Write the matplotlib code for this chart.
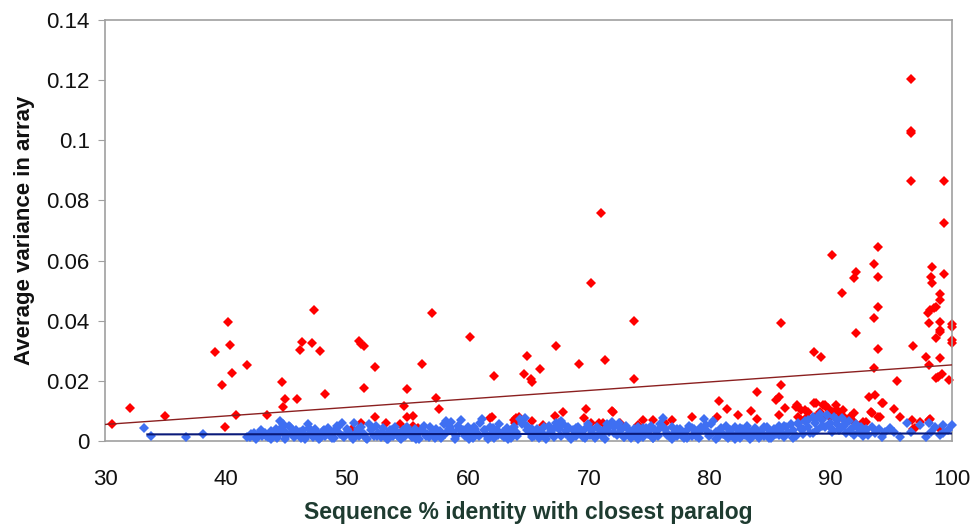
import matplotlib
matplotlib.use("Agg")
import matplotlib.pyplot as plt

# ---- data ----
red_x = [30.6, 32.1, 35.0, 39.1, 39.7, 39.9, 40.2, 40.3, 40.5, 40.8, 41.7, 43.4, 44.6, 44.7,
         44.9, 45.9, 46.1, 46.3, 47.1, 47.3, 47.8, 48.2, 50.4, 51.0, 51.2, 51.4, 51.4, 51.2,
         52.3, 52.3, 53.2, 54.4, 54.7, 55.0, 55.0, 55.5, 55.5, 55.9, 56.2, 57.0, 57.4, 57.6,
         60.2, 61.8, 62.0, 62.2, 63.8, 63.9, 64.0, 64.2, 64.6, 64.9, 65.2, 65.3, 65.3, 66.0,
         66.2, 67.2, 67.3, 67.5, 67.9, 69.2, 69.6, 69.8, 70.2, 70.2, 70.8, 71.0, 71.2, 71.3,
         71.9, 72.0, 72.6, 73.7, 73.7, 74.1, 74.5, 75.3, 76.3, 76.9, 78.5, 80.6, 80.8, 81.4,
         82.3, 83.4, 83.9, 83.9, 85.5, 85.7, 85.7, 85.9, 85.9, 86.2, 87.1, 87.2, 87.3, 87.5,
         87.5, 87.9, 88.0, 88.1, 88.6, 88.6, 88.7, 88.8, 89.1, 89.2, 89.3, 89.4, 89.5, 89.7,
         89.8, 89.9, 90.1, 90.2, 90.4, 90.5, 90.8, 90.8, 90.9, 91.0, 91.1, 91.6, 91.9, 91.9,
         91.9, 92.1, 92.1, 92.7, 92.9, 93.2, 93.3, 93.4, 93.6, 93.6, 93.6, 93.7, 93.9, 93.9,
         93.9, 93.9, 93.9, 94.1, 94.2, 94.3, 95.2, 95.5, 95.7, 96.6, 96.6, 96.6, 96.6, 96.7,
         96.8, 96.8, 97.0, 97.4, 97.9, 98.0, 98.1, 98.1, 98.1, 98.2, 98.2, 98.3, 98.4, 98.4,
         98.5, 98.7, 98.7, 98.7, 98.9, 99.0, 99.0, 99.0, 99.0, 99.0, 99.0, 99.0, 99.2, 99.4,
         99.4, 99.4, 99.8, 100.0, 100.0, 100.0, 100.0]
red_y = [0.0057, 0.0109, 0.0083, 0.0296, 0.0186, 0.0048, 0.0396, 0.0320, 0.0226, 0.0086, 0.0253, 0.0086, 0.0195, 0.0114,
         0.0139, 0.0139, 0.0303, 0.0330, 0.0327, 0.0434, 0.0299, 0.0156, 0.0041, 0.0333, 0.0322, 0.0316, 0.0177, 0.0061,
         0.0246, 0.0080, 0.0059, 0.0055, 0.0115, 0.0173, 0.0081, 0.0083, 0.0051, 0.0043, 0.0256, 0.0427, 0.0142, 0.0105,
         0.0347, 0.0075, 0.0081, 0.0217, 0.0070, 0.0059, 0.0075, 0.0081, 0.0222, 0.0283, 0.0205, 0.0195, 0.0068, 0.0238,
         0.0053, 0.0083, 0.0316, 0.0059, 0.0095, 0.0255, 0.0075, 0.0106, 0.0527, 0.0061, 0.0059, 0.0757, 0.0059, 0.0270,
         0.0101, 0.0097, 0.0061, 0.0400, 0.0205, 0.0053, 0.0070, 0.0070, 0.0059, 0.0070, 0.0081, 0.0081, 0.0134, 0.0108,
         0.0086, 0.0101, 0.0164, 0.0072, 0.0136, 0.0147, 0.0086, 0.0391, 0.0186, 0.0109, 0.0114, 0.0120, 0.0081, 0.0103,
         0.0070, 0.0103, 0.0081, 0.0097, 0.0125, 0.0297, 0.0081, 0.0125, 0.0097, 0.0278, 0.0075, 0.0120, 0.0120, 0.0109,
         0.0109, 0.0081, 0.0619, 0.0097, 0.0120, 0.0103, 0.0092, 0.0081, 0.0491, 0.0103, 0.0081, 0.0081, 0.0541, 0.0092,
         0.0064, 0.0563, 0.0360, 0.0064, 0.0064, 0.0147, 0.0097, 0.0094, 0.0588, 0.0408, 0.0242, 0.0153, 0.0646, 0.0546,
         0.0447, 0.0306, 0.0081, 0.0081, 0.0125, 0.0125, 0.0108, 0.0200, 0.0081, 0.1204, 0.1025, 0.1032, 0.0865, 0.0070,
         0.0317, 0.0039, 0.0042, 0.0064, 0.0278, 0.0427, 0.0391, 0.0253, 0.0070, 0.0436, 0.0072, 0.0546, 0.0580, 0.0527,
         0.0441, 0.0447, 0.0344, 0.0208, 0.0213, 0.0490, 0.0470, 0.0395, 0.0370, 0.0363, 0.0275, 0.0039, 0.0223, 0.0865,
         0.0726, 0.0555, 0.0203, 0.0389, 0.0335, 0.0326, 0.0380]

blue_x = [33.2, 33.8, 36.7, 38.1, 41.7,
          42.0, 42.3, 42.5, 42.8, 43.0, 43.2, 43.5, 43.7, 44.0, 44.2, 44.5, 44.6, 44.7, 44.9, 45.0,
          45.2, 45.4, 45.6, 45.8, 46.0, 46.2, 46.4, 46.6, 46.8, 47.0, 47.2, 47.4, 47.6, 47.8, 48.0,
          48.2, 48.4, 48.6, 48.8, 49.0, 49.2, 49.4, 49.6, 49.8, 50.0, 50.2, 50.4, 50.6, 50.8, 51.0,
          51.2, 51.4, 51.6, 51.8, 52.0, 52.2, 52.4, 52.6, 52.8, 53.0, 53.2, 53.4, 53.6, 53.8, 54.0,
          54.2, 54.4, 54.6, 54.8, 55.0, 55.2, 55.4, 55.6, 55.8, 56.0, 56.2, 56.4, 56.6, 56.8, 57.0,
          57.2, 57.4, 57.6, 57.8, 58.0, 58.2, 58.4, 58.6, 58.8, 59.0, 59.2, 59.4, 59.6, 59.8, 60.0,
          60.2, 60.4, 60.6, 60.8, 61.0, 61.2, 61.4, 61.6, 61.8, 62.0, 62.2, 62.4, 62.6, 62.8, 63.0,
          63.2, 63.4, 63.6, 63.8, 64.0, 64.3, 64.5, 64.7, 64.9, 65.1, 65.3, 65.5, 65.7, 65.9, 66.1,
          66.3, 66.5, 66.7, 66.9, 67.1, 67.3, 67.5, 67.7, 67.9, 68.1, 68.3, 68.5, 68.7, 68.9, 69.1,
          69.3, 69.5, 69.7, 69.9, 70.1, 70.3, 70.5, 70.7, 70.9, 71.1, 71.3, 71.5, 71.7, 71.9, 72.1,
          72.3, 72.5, 72.7, 72.9, 73.1, 73.3, 73.5, 73.7, 73.9, 74.1, 74.3, 74.5, 74.7, 74.9, 75.1,
          75.3, 75.5, 75.7, 75.9, 76.1, 76.3, 76.5, 76.7, 76.9, 77.1, 77.3, 77.5, 77.7, 77.9, 78.1,
          78.3, 78.5, 78.7, 78.9, 79.1, 79.3, 79.5, 79.7, 79.9, 80.1, 80.3, 80.5, 80.7, 80.9, 81.1,
          81.3, 81.5, 81.7, 81.9, 82.1, 82.3, 82.5, 82.7, 82.9, 83.1, 83.3, 83.5, 83.7, 83.9, 84.1,
          84.3, 84.5, 84.7, 84.9, 85.1, 85.3, 85.5, 85.7, 85.9, 86.1, 86.3, 86.5, 86.7, 86.9, 87.1,
          87.3, 87.5, 87.7, 87.9, 88.1, 88.3, 88.5, 88.7, 88.9, 89.1, 89.3, 89.5, 89.7, 89.9, 90.1,
          90.3, 90.5, 90.7, 90.9, 91.1, 91.3, 91.5, 91.7, 91.9, 92.1, 92.3, 92.5, 92.7, 92.9, 93.1,
          93.4, 93.7, 94.0, 94.2, 94.5, 94.9, 95.2, 95.7, 96.3, 96.6, 97.4, 97.9, 98.1, 98.3, 98.6,
          99.0, 99.3, 99.3, 99.7, 100.0,
          42.1, 42.5, 42.9, 43.3, 43.7, 44.1, 44.5, 44.9, 45.3, 45.7, 46.1, 46.5, 46.9, 47.3, 47.7,
          48.1, 48.5, 48.9, 49.3, 49.7, 50.1, 50.5, 50.9, 51.3, 51.7, 52.1, 52.5, 52.9, 53.3, 53.7,
          54.1, 54.5, 54.9, 55.3, 55.7, 56.1, 56.5, 56.9, 57.3, 57.7, 58.1, 58.5, 58.9, 59.3, 59.7,
          60.1, 60.5, 60.9, 61.3, 61.7, 62.1, 62.5, 62.9, 63.3, 63.7, 64.1, 64.5, 64.9, 65.3, 65.7,
          66.1, 66.5, 66.9, 67.3, 67.7, 68.1, 68.5, 68.9, 69.3, 69.7, 70.1, 70.5, 70.9, 71.3, 71.7,
          72.1, 72.5, 72.9, 73.3, 73.7, 74.1, 74.5, 74.9, 75.3, 75.7, 76.1, 76.5, 76.9, 77.3, 77.7,
          78.1, 78.5, 78.9, 79.3, 79.7, 80.1, 80.5, 80.9, 81.3, 81.7, 82.1, 82.5, 82.9, 83.3, 83.7,
          84.1, 84.5, 84.9, 85.3, 85.7, 86.1, 86.5, 86.9, 87.3, 87.7, 88.1, 88.5, 88.9, 89.3, 89.7,
          90.1, 90.5, 90.9, 91.3, 91.7, 92.1, 92.5, 92.9]
blue_y = [0.0044, 0.0017, 0.0012, 0.0023, 0.0014,
          0.0012, 0.0025, 0.0010, 0.0030, 0.0015, 0.0028, 0.0012, 0.0032, 0.0020, 0.0011, 0.0068, 0.0045, 0.0058, 0.0030, 0.0015,
          0.0050, 0.0025, 0.0012, 0.0038, 0.0020, 0.0010, 0.0035, 0.0018, 0.0058, 0.0030, 0.0012, 0.0040, 0.0022, 0.0010, 0.0033,
          0.0015, 0.0042, 0.0020, 0.0010, 0.0035, 0.0050, 0.0022, 0.0060, 0.0012, 0.0040, 0.0025, 0.0012, 0.0060, 0.0030, 0.0015,
          0.0045, 0.0022, 0.0010, 0.0055, 0.0035, 0.0018, 0.0050, 0.0028, 0.0012, 0.0042, 0.0020, 0.0008, 0.0035, 0.0015, 0.0045,
          0.0025, 0.0010, 0.0038, 0.0018, 0.0048, 0.0028, 0.0012, 0.0040, 0.0020, 0.0008, 0.0035, 0.0050, 0.0022, 0.0012, 0.0030,
          0.0015, 0.0040, 0.0025, 0.0010, 0.0055, 0.0068, 0.0040, 0.0062, 0.0030, 0.0015, 0.0050, 0.0070, 0.0035, 0.0018, 0.0045,
          0.0025, 0.0010, 0.0040, 0.0022, 0.0060, 0.0072, 0.0035, 0.0015, 0.0045, 0.0025, 0.0010, 0.0038, 0.0055, 0.0020, 0.0012,
          0.0042, 0.0028, 0.0010, 0.0048, 0.0030, 0.0072, 0.0062, 0.0078, 0.0050, 0.0025, 0.0040, 0.0015, 0.0035, 0.0010, 0.0028,
          0.0045, 0.0018, 0.0050, 0.0030, 0.0012, 0.0060, 0.0040, 0.0065, 0.0055, 0.0022, 0.0045, 0.0010, 0.0035, 0.0018, 0.0048,
          0.0028, 0.0012, 0.0040, 0.0055, 0.0020, 0.0035, 0.0010, 0.0045, 0.0025, 0.0015, 0.0040, 0.0055, 0.0030, 0.0062, 0.0045,
          0.0020, 0.0060, 0.0035, 0.0012, 0.0050, 0.0028, 0.0010, 0.0040, 0.0020, 0.0048, 0.0030, 0.0012, 0.0042, 0.0022, 0.0050,
          0.0010, 0.0035, 0.0018, 0.0055, 0.0075, 0.0040, 0.0025, 0.0012, 0.0045, 0.0030, 0.0015, 0.0040, 0.0022, 0.0010, 0.0035,
          0.0050, 0.0018, 0.0040, 0.0025, 0.0010, 0.0048, 0.0072, 0.0035, 0.0015, 0.0055, 0.0068, 0.0030, 0.0012, 0.0042, 0.0022,
          0.0050, 0.0010, 0.0035, 0.0018, 0.0045, 0.0028, 0.0010, 0.0040, 0.0020, 0.0050, 0.0030, 0.0012, 0.0042, 0.0022, 0.0010,
          0.0038, 0.0018, 0.0045, 0.0025, 0.0010, 0.0040, 0.0022, 0.0050, 0.0030, 0.0012, 0.0045, 0.0025, 0.0055, 0.0035, 0.0015,
          0.0060, 0.0040, 0.0022, 0.0065, 0.0045, 0.0025, 0.0080, 0.0060, 0.0035, 0.0090, 0.0070, 0.0045, 0.0085, 0.0060, 0.0030,
          0.0080, 0.0055, 0.0035, 0.0075, 0.0050, 0.0025, 0.0065, 0.0040, 0.0020, 0.0055, 0.0030, 0.0045, 0.0015, 0.0035, 0.0020,
          0.0045, 0.0025, 0.0040, 0.0014, 0.0030, 0.0042, 0.0031, 0.0014, 0.0059, 0.0030, 0.0053, 0.0014, 0.0059, 0.0030, 0.0048,
          0.0020, 0.0053, 0.0025, 0.0035, 0.0053,
          0.0022, 0.0006, 0.0035, 0.0018, 0.0008, 0.0040, 0.0025, 0.0006, 0.0045, 0.0015,
          0.0030, 0.0008, 0.0042, 0.0020, 0.0005, 0.0038, 0.0026, 0.0010, 0.0045, 0.0018,
          0.0032, 0.0006, 0.0040, 0.0022, 0.0008, 0.0044, 0.0016, 0.0030, 0.0005, 0.0038,
          0.0020, 0.0008, 0.0042, 0.0028, 0.0006, 0.0036, 0.0018, 0.0045, 0.0010, 0.0032,
          0.0022, 0.0048, 0.0006, 0.0040, 0.0025, 0.0008, 0.0046, 0.0015, 0.0035, 0.0005,
          0.0042, 0.0020, 0.0030, 0.0008, 0.0044, 0.0018, 0.0055, 0.0036, 0.0012, 0.0040,
          0.0022, 0.0006, 0.0038, 0.0048, 0.0015, 0.0032, 0.0005, 0.0042, 0.0025, 0.0010,
          0.0040, 0.0018, 0.0035, 0.0006, 0.0045, 0.0025, 0.0050, 0.0012, 0.0038, 0.0020,
          0.0006, 0.0042, 0.0030, 0.0010, 0.0036, 0.0048, 0.0020, 0.0006, 0.0040, 0.0028,
          0.0010, 0.0044, 0.0018, 0.0035, 0.0052, 0.0022, 0.0006, 0.0040, 0.0015, 0.0032,
          0.0008, 0.0042, 0.0025, 0.0006, 0.0038, 0.0018, 0.0045, 0.0010, 0.0032, 0.0020,
          0.0050, 0.0028, 0.0010, 0.0058, 0.0040, 0.0070, 0.0025, 0.0075, 0.0050, 0.0085,
          0.0040, 0.0070, 0.0045, 0.0060, 0.0030, 0.0050, 0.0025, 0.0040]

# trend lines (end points)
red_trend_x = [30.0, 100.0]
red_trend_y = [0.0055, 0.0253]
blue_trend_x = [33.5, 100.0]
blue_trend_y = [0.0022, 0.0025]

x_ticks = [30, 40, 50, 60, 70, 80, 90, 100]
y_ticks = [0, 0.02, 0.04, 0.06, 0.08, 0.1, 0.12, 0.14]
y_tick_labels = ["0", "0.02", "0.04", "0.06", "0.08", "0.1", "0.12", "0.14"]

# ---- figure ----
plt.rcParams['font.family'] = ['Liberation Sans', 'DejaVu Sans']
fig = plt.figure(figsize=(9.74, 5.26), dpi=100)
ax = fig.add_axes([105 / 974, 1 - 441 / 526, (951.7 - 105) / 974, (441 - 20) / 526])

ms = 5.2
ax.plot(red_x, red_y, linestyle='none', marker='D', markersize=ms, color='#FF0000',
        markeredgewidth=0, clip_on=False, zorder=2)
ax.plot(blue_x, blue_y, linestyle='none', marker='D', markersize=ms, color='#3F6FF2',
        markeredgewidth=0, clip_on=False, zorder=3)
ax.plot(red_trend_x, red_trend_y, color='#8B2020', linewidth=1.0, zorder=4)
ax.plot(blue_trend_x, blue_trend_y, color='#0A1A7A', linewidth=1.5, zorder=4)

ax.set_xlim(30, 100)
ax.set_ylim(0, 0.14)
ax.set_xticks(x_ticks)
ax.set_yticks(y_ticks)
ax.set_yticklabels(y_tick_labels)
ax.tick_params(axis='x', length=0, labelsize=16, pad=20, colors='#111111')
ax.tick_params(axis='y', length=5, width=0.8, color='#A0A0A0', labelsize=16, pad=6,
               labelcolor='#111111')
for s in ax.spines.values():
    s.set_color('#A0A0A0')
    s.set_linewidth(1.2)

ax.set_xlabel('Sequence % identity with closest paralog', fontsize=16.5, fontweight='bold',
              color='#1E3B30', labelpad=8)
ax.set_ylabel('Average variance in array', fontsize=16, fontweight='bold', color='#111111',
              labelpad=8)

fig.savefig('out.png', dpi=100)
